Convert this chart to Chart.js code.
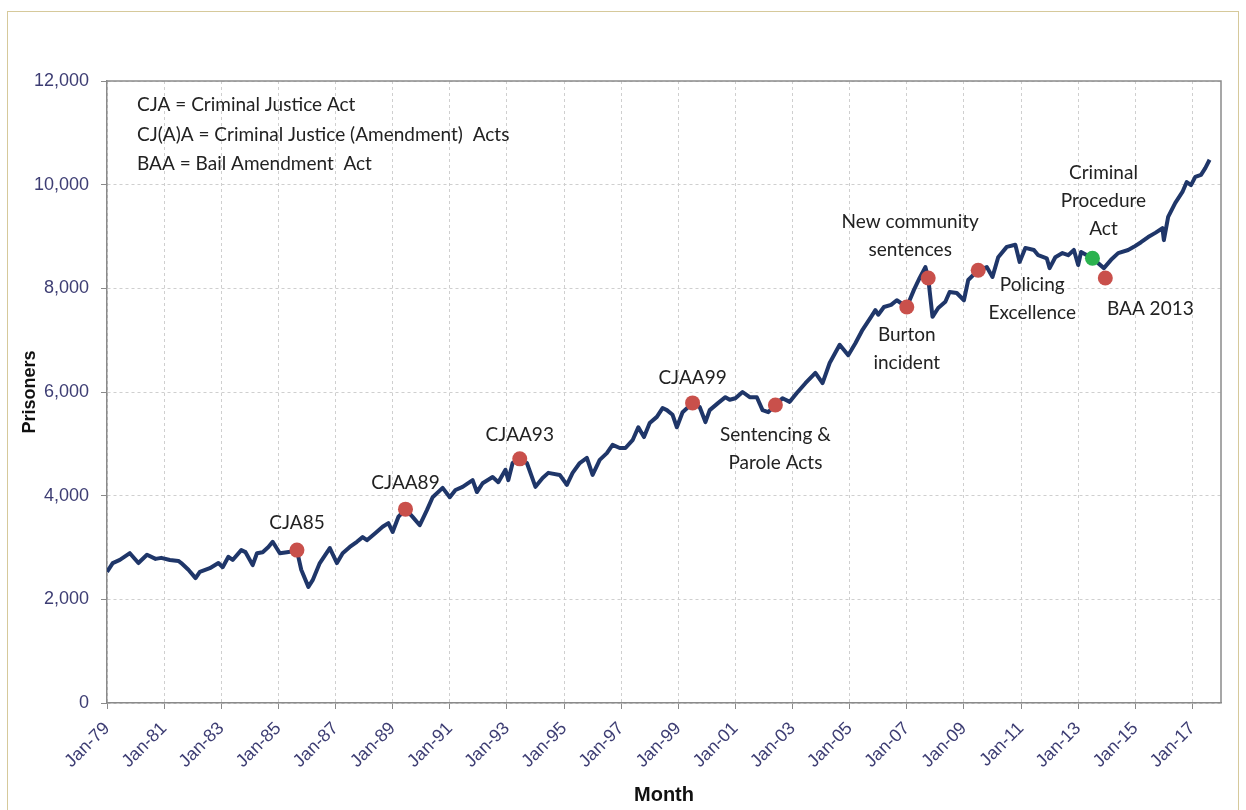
<!DOCTYPE html>
<html>
<head>
<meta charset="utf-8">
<script src="https://cdn.jsdelivr.net/npm/chart.js@4.4.1/dist/chart.umd.min.js"></script>
<style>
    html, body { margin: 0; padding: 0; background: #fff; }
    #wrap { position: relative; width: 1246px; height: 810px; overflow: hidden; }
    #frame {
        position: absolute; left: 7px; top: 11px; width: 1232px; height: 820px;
        border: 1.5px solid #d6c99b; box-sizing: border-box; pointer-events: none;
    }
    canvas { position: absolute; left: 0; top: 0; }
</style>
</head>
<body>
<div id="wrap">
    <div id="frame"></div>
    <canvas id="prisonChart" width="1246" height="810"></canvas>
</div>
<script>
// =========================
// DATA
// =========================
// decimal year of each reading and the prisoner count
const monthYears = [
    1979.0, 1979.2, 1979.45, 1979.8, 1980.1, 1980.4, 1980.7, 1980.9, 1981.2, 1981.5,
    1981.6, 1981.85, 1982.1, 1982.25, 1982.6, 1982.9, 1983.05, 1983.25, 1983.4, 1983.7,
    1983.85, 1984.1, 1984.25, 1984.45, 1984.65, 1984.8, 1985.05, 1985.3, 1985.65, 1985.8,
    1986.05, 1986.2, 1986.45, 1986.8, 1987.05, 1987.25, 1987.5, 1987.75, 1987.95, 1988.1,
    1988.4, 1988.65, 1988.85, 1989.0, 1989.2, 1989.45, 1989.7, 1989.95, 1990.2, 1990.4,
    1990.75, 1991.0, 1991.2, 1991.45, 1991.8, 1991.95, 1992.15, 1992.5, 1992.7, 1992.95,
    1993.05, 1993.2, 1993.45, 1993.7, 1994.0, 1994.25, 1994.45, 1994.85, 1995.1, 1995.3,
    1995.55, 1995.8, 1996.0, 1996.25, 1996.5, 1996.7, 1996.95, 1997.15, 1997.4, 1997.6,
    1997.8, 1998.0, 1998.25, 1998.45, 1998.6, 1998.8, 1998.95, 1999.15, 1999.35, 1999.5,
    1999.75, 1999.95, 2000.1, 2000.4, 2000.65, 2000.8, 2001.0, 2001.25, 2001.5, 2001.75,
    2001.95, 2002.15, 2002.4, 2002.65, 2002.9, 2003.15, 2003.45, 2003.8, 2004.05, 2004.3,
    2004.65, 2004.95, 2005.2, 2005.45, 2005.75, 2005.9, 2006.0, 2006.2, 2006.45, 2006.65,
    2007.0, 2007.25, 2007.45, 2007.65, 2007.75, 2007.9, 2008.1, 2008.35, 2008.5, 2008.75,
    2009.0, 2009.15, 2009.5, 2009.8, 2010.0, 2010.2, 2010.5, 2010.8, 2010.95, 2011.15,
    2011.45, 2011.6, 2011.9, 2012.0, 2012.2, 2012.45, 2012.65, 2012.85, 2013.0, 2013.1,
    2013.5, 2013.9, 2014.15, 2014.4, 2014.75, 2014.95, 2015.2, 2015.45, 2015.7, 2015.95,
    2016.0, 2016.15, 2016.4, 2016.65, 2016.8, 2016.95, 2017.1, 2017.3, 2017.45, 2017.6
];
const prisoners = [
    2530, 2700, 2760, 2890, 2700, 2860, 2780, 2800, 2760, 2740,
    2700, 2570, 2410, 2530, 2600, 2700, 2620, 2820, 2760, 2950,
    2910, 2660, 2890, 2910, 3010, 3110, 2890, 2910, 2940, 2570,
    2240, 2370, 2700, 2990, 2700, 2890, 3010, 3110, 3200, 3140,
    3280, 3400, 3470, 3300, 3590, 3740, 3590, 3430, 3720, 3970,
    4150, 3970, 4110, 4170, 4300, 4070, 4240, 4360, 4260, 4500,
    4300, 4630, 4710, 4630, 4170, 4340, 4440, 4400, 4210, 4440,
    4630, 4730, 4400, 4690, 4820, 4980, 4920, 4920, 5070, 5320,
    5130, 5400, 5520, 5690, 5650, 5560, 5320, 5610, 5710, 5790,
    5710, 5420, 5650, 5790, 5900, 5850, 5880, 6000, 5900, 5900,
    5650, 5610, 5750, 5880, 5810, 5980, 6170, 6370, 6170, 6560,
    6910, 6710, 6940, 7200, 7450, 7580, 7490, 7640, 7680, 7770,
    7640, 7970, 8200, 8410, 8200, 7450, 7620, 7740, 7930, 7910,
    7770, 8160, 8350, 8410, 8220, 8600, 8800, 8840, 8510, 8780,
    8740, 8640, 8580, 8390, 8600, 8680, 8640, 8740, 8450, 8700,
    8580, 8390, 8550, 8680, 8740, 8800, 8890, 8990, 9070, 9160,
    8930, 9380, 9650, 9860, 10050, 9990, 10150, 10190, 10320, 10480
];

const tickYears = [1979, 1981, 1983, 1985, 1987, 1989, 1991, 1993, 1995, 1997,
    1999, 2001, 2003, 2005, 2007, 2009, 2011, 2013, 2015, 2017];
const tickLabels = ["Jan-79", "Jan-81", "Jan-83", "Jan-85", "Jan-87", "Jan-89", "Jan-91",
    "Jan-93", "Jan-95", "Jan-97", "Jan-99", "Jan-01", "Jan-03", "Jan-05", "Jan-07",
    "Jan-09", "Jan-11", "Jan-13", "Jan-15", "Jan-17"];

// marked events
const eventNames = [
    ["CJA85"], ["CJAA89"], ["CJAA93"], ["CJAA99"], ["Sentencing &", "Parole Acts"],
    ["Burton", "incident"], ["New community", "sentences"], ["Policing", "Excellence"],
    ["Criminal", "Procedure", "Act"], ["BAA 2013"]
];
const eventYears = [1985.65, 1989.45, 1993.45, 1999.5, 2002.4, 2007.0, 2007.75, 2009.5, 2013.5, 2013.95];
const eventValues = [2950, 3740, 4710, 5790, 5750, 7640, 8200, 8350, 8580, 8200];
const eventKinds = ["red", "red", "red", "red", "red", "red", "red", "red", "green", "red"];

const keyLines = [
    "CJA = Criminal Justice Act",
    "CJ(A)A = Criminal Justice (Amendment)  Acts",
    "BAA = Bail Amendment  Act"
];

// =========================
// LAYOUT / STYLE
// =========================
const LINE_COLOR = "#1f3669";
const DOT_COLORS = { red: "#c9504b", green: "#2bb24f" };
const TICK_COLOR = "#3d3d73";
const NOTE_FONT = "19px Lato";
// label offset from its dot (px) for the first line, in event order
const labelOffsets = [
    [0, -27], [0, -26], [0, -24], [0, -25], [0, 30],
    [0, 28], [-18, -56], [54, 15], [11, -85], [45, 31]
];
const LABEL_LINE_H = 28;

// =========================
// PLUGINS
// =========================
const plotFrame = {
    id: "plotFrame",
    beforeDatasetsDraw(chart) {
        const a = chart.chartArea;
        const ctx = chart.ctx;
        ctx.save();
        ctx.strokeStyle = "#8a8a8a";
        ctx.lineWidth = 1.5;
        ctx.beginPath();
        ctx.moveTo(a.left, a.top);
        ctx.lineTo(a.right, a.top);
        ctx.lineTo(a.right, a.bottom);
        ctx.stroke();
        ctx.restore();
    }
};

const notes = {
    id: "notes",
    afterDraw(chart) {
        const ctx = chart.ctx;
        const xs = chart.scales.x;
        const ys = chart.scales.y;
        const a = chart.chartArea;
        ctx.save();
        ctx.fillStyle = "#222";
        ctx.font = NOTE_FONT;
        ctx.textBaseline = "middle";

        // abbreviations key
        ctx.textAlign = "left";
        keyLines.forEach((t, i) => ctx.fillText(t, a.left + 30, a.top + 24 + i * 29.5));

        // event labels
        ctx.textAlign = "center";
        eventNames.forEach((lines, i) => {
            const px = xs.getPixelForValue(eventYears[i]);
            const py = ys.getPixelForValue(eventValues[i]);
            const [dx, dy] = labelOffsets[i];
            lines.forEach((t, j) => ctx.fillText(t, px + dx, py + dy + j * LABEL_LINE_H));
        });
        ctx.restore();
    }
};

// =========================
// CHART
// =========================
const ctx = document.getElementById("prisonChart").getContext("2d");

new Chart(ctx, {
    data: {
        datasets: [
            {
                type: "scatter",
                data: eventYears.map((x, i) => ({ x: x, y: eventValues[i] })),
                pointRadius: 7.5,
                pointHoverRadius: 7.5,
                pointBorderWidth: 0,
                pointBackgroundColor: eventKinds.map(k => DOT_COLORS[k]),
                order: 0
            },
            {
                type: "line",
                data: monthYears.map((x, i) => ({ x: x, y: prisoners[i] })),
                borderColor: LINE_COLOR,
                borderWidth: 4,
                pointRadius: 0,
                tension: 0,
                borderJoinStyle: "round",
                order: 1
            }
        ]
    },
    options: {
        responsive: false,
        animation: false,
        events: [],
        layout: { padding: { top: 81, right: 25, left: 0, bottom: 0 } },
        plugins: {
            legend: { display: false },
            tooltip: { enabled: false }
        },
        scales: {
            x: {
                type: "linear",
                min: 1979,
                max: 2018,
                afterFit: (s) => { s.height = 107; },
                afterBuildTicks: (s) => { s.ticks = tickYears.map(v => ({ value: v })); },
                grid: { color: "#cfcfcf", tickColor: "#8a8a8a", tickLength: 6 },
                border: { color: "#8a8a8a", width: 1.5, dash: [3, 3] },
                ticks: {
                    autoSkip: false,
                    minRotation: 45,
                    maxRotation: 45,
                    padding: 9,
                    color: TICK_COLOR,
                    font: { family: "Liberation Sans", size: 18 },
                    callback: (v) => tickLabels[tickYears.indexOf(v)]
                },
                title: {
                    display: true,
                    text: "Month",
                    color: "#111",
                    font: { family: "Liberation Sans", size: 20, weight: "bold" },
                    padding: { top: 0, bottom: 3 }
                }
            },
            y: {
                min: 0,
                max: 12000,
                afterFit: (s) => { s.width = 107; },
                grid: { color: "#cfcfcf", tickColor: "#8a8a8a", tickLength: 6 },
                border: { color: "#8a8a8a", width: 1.5, dash: [3, 3] },
                ticks: {
                    stepSize: 2000,
                    padding: 12,
                    color: TICK_COLOR,
                    font: { family: "Liberation Sans", size: 18 },
                    callback: (v) => v.toLocaleString("en-US")
                },
                title: {
                    display: true,
                    text: "Prisoners",
                    color: "#111",
                    font: { family: "Liberation Sans", size: 18, weight: "bold" },
                    padding: { top: 19, bottom: 0 }
                }
            }
        }
    },
    plugins: [plotFrame, notes]
});
</script>
</body>
</html>
